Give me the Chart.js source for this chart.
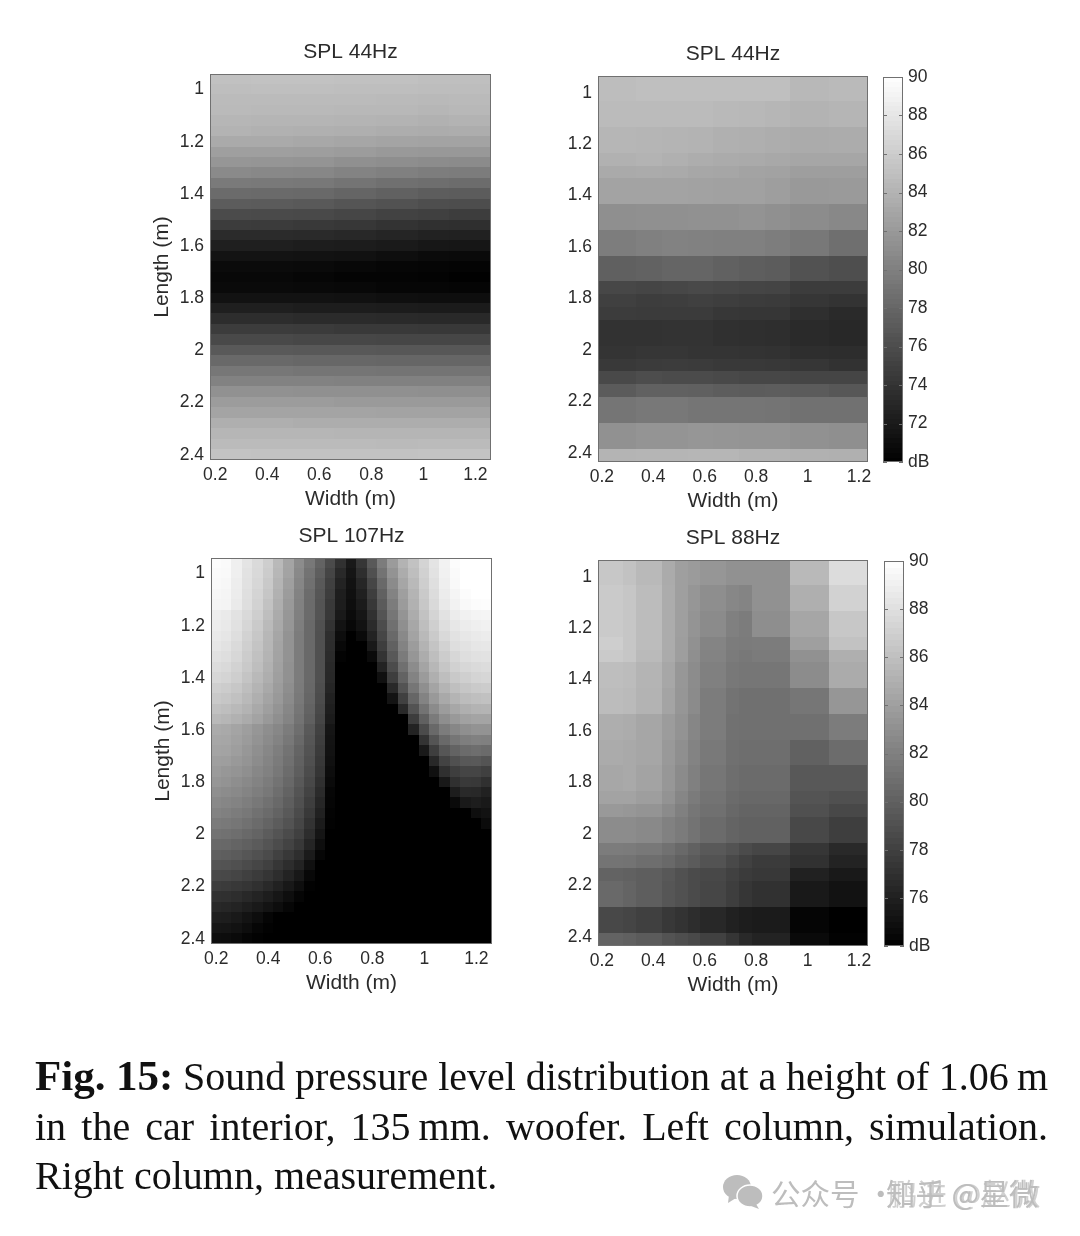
<!DOCTYPE html>
<html>
<head>
<meta charset="utf-8">
<title>Fig. 15</title>
<script src="https://cdn.jsdelivr.net/npm/chart.js@4"></script>
<style>
    html, body { margin: 0; padding: 0; background: #fff; }
    body { position: relative; width: 1080px; height: 1236px; overflow: hidden; }
    canvas { position: absolute; filter: blur(0.5px); }
    .linha { position: absolute; left: 35px; width: 1013px; font-family: "Liberation Serif", serif; font-size: 40px; line-height: 48px; color: #111; white-space: nowrap; filter: blur(0.35px); }
    .justa { text-align: justify; text-align-last: justify; white-space: normal; word-spacing: -3px; }
    .marca { position: absolute; top: 1172px; font-family: "Noto Sans CJK SC", sans-serif; font-size: 29.5px; line-height: 40px; color: #bdbdbd; white-space: nowrap; filter: blur(0.4px); }
</style>
</head>
<body>
<div class="linha justa" style="top:1052px"><b style="font-size:43px">Fig. 15:</b> Sound pressure level distribution at a height of 1.06&#8201;m</div>
<div class="linha justa" style="top:1103px">in the car interior, 135&#8201;mm. woofer. Left column, simulation.</div>
<div class="linha" style="top:1152px">Right column, measurement.</div>
<svg style="position:absolute;left:722px;top:1174px" width="42" height="36" viewBox="0 0 42 36">
    <ellipse cx="15" cy="13" rx="14" ry="12" fill="#bdbdbd"/><path d="M7 21 L6 29 L14 24 Z" fill="#bdbdbd"/>
    <ellipse cx="28" cy="22" rx="13" ry="11" fill="#bdbdbd" stroke="#fff" stroke-width="1.5"/><path d="M34 30 L37 35 L29 32 Z" fill="#bdbdbd"/>
</svg>
<div class="marca" style="left:771px">公众号 ·</div>
<div class="marca" style="left:886px">知乎 @星微</div>
<div class="marca" style="left:888px;opacity:.7">鹏进 @赵微</div>

<script>
// Eixos
const widthTicks = [0.2, 0.4, 0.6, 0.8, 1, 1.2];
const lengthTicks = [1, 1.2, 1.4, 1.6, 1.8, 2, 2.2, 2.4];
const titles = ['SPL 44Hz', 'SPL 44Hz', 'SPL 107Hz', 'SPL 88Hz'];

// Limites das células (m)
const simLengths = [0.94,0.98,1.02,1.06,1.1,1.14,1.18,1.22,1.26,1.3,1.34,1.38,1.42,1.46,1.5,1.54,1.58,1.62,1.66,1.7,1.74,1.78,1.82,1.86,1.9,1.94,1.98,2.02,2.06,2.1,2.14,2.18,2.22,2.26,2.3,2.34,2.38,2.42];
const sim44Widths = [0.18,0.34,0.5,0.66,0.82,0.98,1.1,1.26];
const sim107Widths = [0.18,0.22,0.26,0.3,0.34,0.38,0.42,0.46,0.5,0.54,0.58,0.62,0.66,0.7,0.74,0.78,0.82,0.86,0.9,0.94,0.98,1.02,1.06,1.1,1.14,1.18,1.22,1.26];
const measLengths = [0.935,0.985,1.035,1.085,1.135,1.185,1.235,1.285,1.335,1.385,1.435,1.485,1.535,1.585,1.635,1.685,1.735,1.785,1.835,1.885,1.935,1.985,2.035,2.085,2.135,2.185,2.235,2.285,2.335,2.385,2.435];
const meas44Widths = [0.185,0.335,0.435,0.535,0.635,0.735,0.835,0.935,1.085,1.235];
const meas88Widths = [0.185,0.285,0.335,0.435,0.485,0.535,0.585,0.685,0.735,0.785,0.935,1.085,1.235];

// Barras de cor (dB)
const scale70Levels = [70,70.25,70.5,70.75,71,71.25,71.5,71.75,72,72.25,72.5,72.75,73,73.25,73.5,73.75,74,74.25,74.5,74.75,75,75.25,75.5,75.75,76,76.25,76.5,76.75,77,77.25,77.5,77.75,78,78.25,78.5,78.75,79,79.25,79.5,79.75,80,80.25,80.5,80.75,81,81.25,81.5,81.75,82,82.25,82.5,82.75,83,83.25,83.5,83.75,84,84.25,84.5,84.75,85,85.25,85.5,85.75,86,86.25,86.5,86.75,87,87.25,87.5,87.75,88,88.25,88.5,88.75,89,89.25,89.5,89.75,90];
const scale74Levels = [74,74.25,74.5,74.75,75,75.25,75.5,75.75,76,76.25,76.5,76.75,77,77.25,77.5,77.75,78,78.25,78.5,78.75,79,79.25,79.5,79.75,80,80.25,80.5,80.75,81,81.25,81.5,81.75,82,82.25,82.5,82.75,83,83.25,83.5,83.75,84,84.25,84.5,84.75,85,85.25,85.5,85.75,86,86.25,86.5,86.75,87,87.25,87.5,87.75,88,88.25,88.5,88.75,89,89.25,89.5,89.75,90];
const scale70Ticks = [70,72,74,76,78,80,82,84,86,88,90];
const scale74Ticks = [74,76,78,80,82,84,86,88,90];

// SPL (dB): linha = comprimento, coluna = largura
const sim44 = [
[85.1,85.2,85.2,85.1,85.1,85,85],
[84.9,85,85,84.9,84.9,84.8,84.8],
[84.7,84.7,84.7,84.7,84.6,84.5,84.6],
[84.6,84.5,84.5,84.4,84.4,84.3,84.4],
[84.3,84.2,84.2,84.1,84,83.9,84],
[84,83.9,83.8,83.7,83.6,83.5,83.6],
[83.3,83.3,83.2,83,82.9,82.8,82.8],
[82.5,82.5,82.4,82.2,82,81.9,81.9],
[81.8,81.7,81.6,81.3,81.1,81,80.9],
[80.8,80.7,80.6,80.3,80,79.8,79.7],
[79.6,79.5,79.4,79.1,78.8,78.6,78.5],
[78.4,78.3,78.2,77.9,77.6,77.3,77.2],
[77.2,77.1,77,76.7,76.4,76.1,76],
[75.9,75.8,75.7,75.5,75.2,75,74.8],
[74.7,74.6,74.5,74.3,74,73.8,73.7],
[73.4,73.4,73.3,73.1,72.9,72.7,72.6],
[72.4,72.4,72.3,72.2,72,71.8,71.7],
[71.5,71.5,71.4,71.3,71.1,70.9,70.8],
[70.9,70.9,70.8,70.6,70.5,70.4,70.3],
[70.6,70.6,70.5,70.3,70.3,70.2,70.1],
[70.8,70.8,70.7,70.6,70.5,70.5,70.4],
[71.4,71.4,71.4,71.3,71.2,71.1,71.1],
[72.4,72.4,72.3,72.3,72.2,72.1,72.1],
[73.5,73.5,73.4,73.4,73.3,73.2,73.2],
[74.7,74.7,74.6,74.5,74.5,74.4,74.4],
[75.7,75.7,75.6,75.6,75.5,75.5,75.5],
[77,77,76.9,76.9,76.8,76.8,76.8],
[78.2,78.2,78.1,78.1,78,78,78],
[79.3,79.3,79.2,79.2,79.1,79.1,79.1],
[80.2,80.2,80.2,80.1,80.1,80.1,80.1],
[81.4,81.4,81.3,81.3,81.3,81.2,81.2],
[82.2,82.2,82.2,82.1,82.1,82.1,82.1],
[82.9,82.9,82.9,82.9,82.8,82.8,82.8],
[83.7,83.7,83.6,83.6,83.6,83.6,83.6],
[84.3,84.3,84.3,84.2,84.2,84.2,84.2],
[84.7,84.7,84.7,84.7,84.6,84.7,84.7],
[85.3,85.2,85.2,85.2,85.2,85.3,85.3]
];

const meas44 = [
[84.8,85,85,85,85,85,85,84.4,84.6],
[84.8,85,85,85,85,85,85,84.4,84.6],
[84.7,84.7,84.7,84.7,84.5,84.4,84.3,84,84.2],
[84.7,84.7,84.7,84.7,84.5,84.4,84.3,84,84.2],
[84.3,84.2,84.1,84,83.8,83.7,83.6,83.4,83.5],
[84.3,84.2,84.1,84,83.8,83.7,83.6,83.4,83.5],
[83.9,84,83.8,83.6,83.4,83.3,83.2,83,83],
[83.3,83.4,83.3,83.1,83,82.8,82.7,82.4,82.4],
[82.8,82.8,82.8,82.7,82.6,82.6,82.4,82,82.1],
[82.8,82.8,82.8,82.7,82.6,82.6,82.4,82,82.1],
[81.2,81.3,81.3,81.4,81.4,81.5,81.3,81,80.7],
[81.2,81.3,81.3,81.4,81.4,81.5,81.3,81,80.7],
[79.8,80,80.2,80.1,80,80,79.8,79.4,78.7],
[79.8,80,80.2,80.1,80,80,79.8,79.4,78.7],
[77.5,77.7,77.9,77.9,77.6,77.4,77.2,76.4,76.1],
[77.5,77.7,77.9,77.9,77.6,77.4,77.2,76.4,76.1],
[75.6,75.4,75.6,75.7,75.6,75.4,75.3,74.7,74.7],
[75,74.8,74.9,75,74.9,74.7,74.6,74.2,74],
[74.7,74.6,74.6,74.6,74.3,74.2,74.2,73.7,73.3],
[73.9,73.9,74,74,73.8,73.7,73.6,73.3,73.1],
[73.9,73.9,74,74,73.8,73.7,73.6,73.3,73.1],
[74.1,74.2,74.2,74.1,74.1,74,73.9,73.6,73.5],
[74.5,74.6,74.7,74.6,74.5,74.5,74.4,74.2,73.9],
[75.7,76,75.9,75.9,75.7,75.6,75.6,75.4,75.4],
[77.1,77.6,77.6,77.5,77.3,77.2,77.3,77.1,76.8],
[79.2,79.4,79.4,79.2,79.2,79.2,79.1,78.9,78.9],
[79.2,79.4,79.4,79.2,79.2,79.2,79.1,78.9,78.9],
[81.4,81.6,81.6,81.8,81.7,81.6,81.6,81.4,81.2],
[81.4,81.6,81.6,81.8,81.7,81.6,81.6,81.4,81.2],
[84.1,84.2,84.2,84.3,84.3,84,84,83.9,83.8]
];

const sim107 = [
[89.8,89.7,89,88.3,87.7,86.9,85.6,84.3,82.8,81.5,80.2,78.7,77.1,75.6,77.4,79.6,81.8,83.7,85.2,86.2,87.3,88.3,89.2,89.8,90,90,90],
[89.7,89.6,89,88.2,87.6,86.8,85.5,84.2,82.6,81.2,79.9,78.3,76.6,75.3,76.9,79,81.2,83.2,84.8,85.9,87.1,88.2,89.1,89.7,90,90,90],
[89.6,89.5,88.9,88.1,87.5,86.6,85.3,84,82.4,81,79.6,78,76.2,75.1,76.4,78.4,80.6,82.7,84.4,85.6,86.9,88,89,89.6,90,90,90],
[89.5,89.4,88.8,88,87.3,86.4,85.1,83.8,82.2,80.8,79.4,77.8,75.9,75,76,77.9,80.1,82.2,84,85.3,86.7,87.8,88.8,89.4,89.8,90,90],
[89.4,89.3,88.7,87.9,87.2,86.2,84.9,83.6,82.1,80.7,79.3,77.6,75.8,74.9,75.7,77.5,79.7,81.8,83.7,85.1,86.5,87.6,88.6,89.2,89.6,89.8,89.9],
[88.9,88.7,88.2,87.6,86.9,85.9,84.7,83.5,82,80.7,79.3,77.5,75.6,74.7,75.4,77.1,79.3,81.4,83.3,84.8,86.2,87.3,88.2,88.8,89.1,89.3,89.4],
[88.8,88.6,88.1,87.4,86.7,85.7,84.6,83.4,81.9,80.6,79.1,77.2,75.2,74.5,75.1,76.7,78.8,81,83,84.5,85.9,87,87.9,88.5,88.8,89,89.1],
[88.6,88.4,87.9,87.2,86.5,85.5,84.4,83.2,81.8,80.6,79,76.9,74.8,74,74.6,76.2,78.4,80.6,82.6,84.2,85.6,86.7,87.6,88.2,88.5,88.7,88.8],
[88.4,88.2,87.7,87,86.3,85.4,84.3,83.2,81.8,80.6,79,76.8,74.5,74,74,75.6,77.9,80.1,82.2,83.8,85.2,86.3,87.2,87.9,88.2,88.4,88.5],
[88.1,87.9,87.5,86.8,86.1,85.3,84.2,83.2,81.8,80.6,79,76.7,74.2,74,74,74.6,77.2,79.5,81.7,83.4,84.8,85.9,86.8,87.5,87.9,88.1,88.2],
[87.8,87.6,87.2,86.6,85.9,85.1,84.1,83.1,81.8,80.6,79,76.6,74,74,74,74,76.2,78.8,81,82.8,84.3,85.5,86.4,87.1,87.5,87.7,87.8],
[87.5,87.3,86.9,86.3,85.6,84.9,84,83.1,81.8,80.6,79,76.5,74,74,74,74,75,77.9,80.2,82.2,83.7,85,85.9,86.6,87,87.3,87.4],
[87,86.8,86.5,85.9,85.3,84.6,83.8,82.9,81.7,80.5,78.9,76.3,74,74,74,74,74,76.6,79.2,81.4,83,84.3,85.3,86,86.4,86.7,86.8],
[86.6,86.4,86.1,85.6,85,84.3,83.6,82.7,81.6,80.4,78.8,76.1,74,74,74,74,74,75.2,78,80.4,82.2,83.6,84.6,85.3,85.8,86,86.1],
[86.1,85.9,85.6,85.2,84.6,84,83.3,82.5,81.4,80.2,78.6,75.9,74,74,74,74,74,74,76.6,79.2,81.2,82.7,83.8,84.5,85,85.2,85.3],
[85.6,85.4,85.1,84.7,84.2,83.6,83,82.3,81.2,80,78.4,75.7,74,74,74,74,74,74,74,77.8,80,81.7,82.9,83.6,84.1,84.3,84.3],
[84.7,84.6,84.3,83.9,83.4,82.9,82.5,81.8,80.9,79.6,78.1,75.3,74,74,74,74,74,74,74,76.2,78.7,80.6,81.8,82.5,83,83.2,83.2],
[84.5,84.4,84.1,83.7,83.2,82.7,82.2,81.5,80.6,79.4,77.9,75.2,74,74,74,74,74,74,74,74,77.2,79.3,80.6,81.4,81.9,82.1,82],
[84.3,84.2,83.9,83.5,83,82.5,81.9,81.2,80.3,79.2,77.7,75.1,74,74,74,74,74,74,74,74,75.6,77.9,79.4,80.2,80.7,80.9,80.7],
[84,83.9,83.6,83.3,82.8,82.3,81.7,81,80.1,79,77.5,75,74,74,74,74,74,74,74,74,74,76.5,78.2,79,79.5,79.6,79.3],
[83.7,83.5,83.3,83,82.5,82.1,81.5,80.8,79.9,78.8,77.3,74.8,74,74,74,74,74,74,74,74,74,75,77,77.9,78.3,78.3,78],
[83.4,83.2,82.9,82.6,82.2,81.8,81.2,80.5,79.6,78.5,77,74.6,74,74,74,74,74,74,74,74,74,74,75.6,77,77.6,77.5,77],
[83,82.8,82.6,82.3,81.9,81.5,80.9,80.2,79.3,78.2,76.7,74.4,74,74,74,74,74,74,74,74,74,74,74,75.8,76.6,76.5,76.1],
[82.6,82.4,82.2,81.9,81.5,81.1,80.6,79.9,79,77.9,76.4,74.3,74,74,74,74,74,74,74,74,74,74,74,74.6,75.6,75.8,75.6],
[82.2,82,81.8,81.5,81.1,80.7,80.2,79.6,78.7,77.6,76.1,74.2,74,74,74,74,74,74,74,74,74,74,74,74,74,74.9,75.1],
[81.7,81.6,81.4,81.1,80.7,80.3,79.8,79.2,78.4,77.2,75.7,74.1,74,74,74,74,74,74,74,74,74,74,74,74,74,74,74.7],
[81.2,81.1,80.9,80.6,80.3,79.8,79.3,78.7,78,76.8,75.3,74,74,74,74,74,74,74,74,74,74,74,74,74,74,74,74],
[80.6,80.5,80.3,80,79.7,79.3,78.8,78.2,77.5,76.3,74.9,74,74,74,74,74,74,74,74,74,74,74,74,74,74,74,74],
[80,79.9,79.7,79.4,79.1,78.7,78.1,77.5,76.9,75.7,74.4,74,74,74,74,74,74,74,74,74,74,74,74,74,74,74,74],
[79.3,79.2,79,78.7,78.4,78,77.4,76.8,76.2,75,74,74,74,74,74,74,74,74,74,74,74,74,74,74,74,74,74],
[78.6,78.5,78.3,78,77.7,77.3,76.8,76.2,75.5,74.5,74,74,74,74,74,74,74,74,74,74,74,74,74,74,74,74,74],
[77.8,77.7,77.5,77.3,77,76.6,76.1,75.5,74.9,74.1,74,74,74,74,74,74,74,74,74,74,74,74,74,74,74,74,74],
[77.1,77,76.8,76.5,76.2,75.8,75.4,74.9,74.3,74,74,74,74,74,74,74,74,74,74,74,74,74,74,74,74,74,74],
[76.5,76.4,76.2,75.9,75.6,75.2,74.8,74.4,74,74,74,74,74,74,74,74,74,74,74,74,74,74,74,74,74,74,74],
[75.9,75.8,75.6,75.2,74.8,74.3,74,74,74,74,74,74,74,74,74,74,74,74,74,74,74,74,74,74,74,74,74],
[75.4,75.3,75.1,74.8,74.4,74.1,74,74,74,74,74,74,74,74,74,74,74,74,74,74,74,74,74,74,74,74,74],
[74.9,74.8,74.6,74.3,74.1,74,74,74,74,74,74,74,74,74,74,74,74,74,74,74,74,74,74,74,74,74,74]
];

const meas88 = [
[86.5,86.2,85.6,84.7,84,83.7,83.4,83.1,83.1,83.1,85.6,87.8],
[86.5,86.2,85.6,84.7,84,83.7,83.4,83.1,83.1,83.1,85.6,87.8],
[86.7,86.4,85.8,84.8,84,83.4,82.9,82.5,82.3,83.1,85,87.2],
[86.7,86.4,85.8,84.8,84,83.4,82.9,82.5,82.3,83.1,85,87.2],
[86.7,86.4,85.8,84.8,84,83.3,82.7,82,81.8,82.9,84.4,86.5],
[86.7,86.4,85.8,84.8,84,83.3,82.7,82,81.8,82.9,84.4,86.5],
[86.9,86.4,85.8,84.8,83.9,83.1,82.3,81.8,81.7,81.8,84,86.2],
[86.7,86.4,85.7,84.7,83.9,83,82.2,81.7,81.5,81.7,83.1,85],
[85.9,85.8,85.3,84.5,83.5,82.8,82,81.5,81.4,81.4,82.8,84.7],
[85.9,85.8,85.3,84.5,83.5,82.8,82,81.5,81.4,81.4,82.8,84.7],
[85.8,85.7,85.2,84.3,83.4,82.7,81.8,81.2,81,81,81.4,83.4],
[85.8,85.7,85.2,84.3,83.4,82.7,81.8,81.2,81,81,81.4,83.4],
[84.9,84.8,84.4,83.8,83.2,82.4,81.8,81.1,81,81,81,81.8],
[84.9,84.8,84.4,83.8,83.2,82.4,81.8,81.1,81,81,81,81.8],
[84.7,84.6,84.4,83.6,83,82.2,81.6,81,80.9,80.9,80.1,80.8],
[84.7,84.6,84.4,83.6,83,82.2,81.6,81,80.9,80.9,80.1,80.8],
[84.5,84.6,84.2,83.5,82.7,82,81.4,80.9,80.7,80.7,79.5,79.5],
[84.5,84.6,84.2,83.5,82.7,82,81.4,80.9,80.7,80.7,79.5,79.5],
[84.2,84.2,83.9,83.2,82.4,81.7,81.2,80.7,80.5,80.5,79.3,79],
[83.6,83.5,83.3,82.7,82,81.4,81,80.5,80.3,80.3,79,78.5],
[82.8,82.8,82.6,82.1,81.7,81.2,80.7,80.3,80.1,80.1,78.5,77.9],
[82.8,82.8,82.6,82.1,81.7,81.2,80.7,80.3,80.1,80.1,78.5,77.9],
[81.8,81.7,81.5,81.1,80.6,80.1,79.6,79.2,78.7,78.4,77.4,76.6],
[81.3,81.2,80.9,80.6,80.1,79.7,79.2,78.6,78.1,77.7,77.1,76.2],
[80.2,80.1,79.9,79.5,79.1,78.7,78.5,78.1,77.7,77.5,76.1,75.6],
[80.6,80.3,79.9,79.4,79.1,78.7,78.4,77.9,77.4,77.1,75.6,75.1],
[80.6,80.3,79.9,79.4,79.1,78.7,78.4,77.9,77.4,77.1,75.6,75.1],
[78.5,78.3,78,77.5,77.2,76.8,76.5,76.1,75.8,75.7,74.3,74],
[78.5,78.3,78,77.5,77.2,76.8,76.5,76.1,75.8,75.7,74.3,74],
[80.2,80,79.7,79.2,78.9,78.6,78.1,77.3,76.6,76.2,74.6,74.1]
];

// Transforma as grades em células para o Chart.js
function montarCelulas(larguras, comprimentos, grade) {
    const celulas = [];
    grade.forEach((linha, l) => {
        linha.forEach((v, c) => {
            celulas.push({
                x: (larguras[c] + larguras[c + 1]) / 2,
                y: (comprimentos[l] + comprimentos[l + 1]) / 2,
                x0: larguras[c], x1: larguras[c + 1],
                y0: comprimentos[l], y1: comprimentos[l + 1],
                v: v
            });
        });
    });
    return celulas;
}

function montarBarra(niveis) {
    const celulas = [];
    for (let i = 0; i < niveis.length - 1; i++) {
        celulas.push({
            x: 0.5, y: (niveis[i] + niveis[i + 1]) / 2,
            x0: 0, x1: 1, y0: niveis[i], y1: niveis[i + 1],
            v: (niveis[i] + niveis[i + 1]) / 2
        });
    }
    return celulas;
}

// Plugin: pinta as células usando as escalas do gráfico
const heatmapPlugin = {
    id: 'heatmap',
    beforeDatasetsDraw(chart, args, opts) {
        const { ctx, scales: { x, y } } = chart;
        ctx.save();
        chart.data.datasets[0].data.forEach(c => {
            const g = Math.round(255 * Math.min(1, Math.max(0, (c.v - opts.lo) / (opts.hi - opts.lo))));
            const xa = Math.floor(x.getPixelForValue(c.x0));
            const xb = Math.ceil(x.getPixelForValue(c.x1));
            const ya = Math.floor(Math.min(y.getPixelForValue(c.y0), y.getPixelForValue(c.y1)));
            const yb = Math.ceil(Math.max(y.getPixelForValue(c.y0), y.getPixelForValue(c.y1)));
            ctx.fillStyle = `rgb(${g},${g},${g})`;
            ctx.fillRect(xa, ya, xb - xa, yb - ya);
        });
        ctx.restore();
    },
    afterDraw(chart, args, opts) {
        const { ctx, chartArea: a, scales: { y } } = chart;
        ctx.save();
        ctx.strokeStyle = '#707070';
        ctx.lineWidth = 1;
        ctx.strokeRect(Math.round(a.left) + 0.5, Math.round(a.top) + 0.5, Math.round(a.width) - 1, Math.round(a.height) - 1);
        // marcas internas só na barra de cor
        if (opts.marcas) {
            y.ticks.forEach(t => {
                const py = Math.round(y.getPixelForValue(t.value)) + 0.5;
                ctx.beginPath();
                ctx.moveTo(a.left, py); ctx.lineTo(a.left + 4, py);
                ctx.moveTo(a.right, py); ctx.lineTo(a.right - 4, py);
                ctx.stroke();
            });
        }
        ctx.restore();
    }
};

const corTexto = '#2b2b2b';
const fonte = 'Liberation Sans';

function novoCanvas(left, top, w, h) {
    const canvas = document.createElement('canvas');
    canvas.width = w;
    canvas.height = h;
    canvas.style.cssText = `left:${left}px;top:${top}px;width:${w}px;height:${h}px`;
    document.body.appendChild(canvas);
    return canvas;
}

function criarMapa(p) {
    const w = 70 + p.w + 20;
    const h = 33 + p.h + 50;
    const canvas = novoCanvas(p.left - 70, p.top - 33, w, h);
    return new Chart(canvas, {
        type: 'scatter',
        data: { datasets: [{ data: p.celulas, pointRadius: 0 }] },
        plugins: [heatmapPlugin],
        options: {
            responsive: false,
            animation: false,
            devicePixelRatio: 1,
            layout: { padding: { right: 20 } },
            plugins: {
                legend: { display: false },
                tooltip: { enabled: false },
                title: {
                    display: true, text: p.titulo, fullSize: false, color: corTexto,
                    font: { family: fonte, size: 21, weight: 'normal', lineHeight: 1 },
                    padding: { top: 0.5, bottom: 11.5 }
                },
                heatmap: { lo: p.lo, hi: p.hi, marcas: false }
            },
            scales: {
                x: {
                    type: 'linear', min: p.xMin, max: p.xMax,
                    grid: { display: false, drawTicks: false }, border: { display: false },
                    afterBuildTicks: axis => { axis.ticks = widthTicks.map(value => ({ value })); },
                    afterFit: axis => { axis.height = 50; },
                    ticks: {
                        color: corTexto, padding: 5, maxRotation: 0, autoSkip: false,
                        font: { family: fonte, size: 17.5 },
                        callback: v => String(v)
                    },
                    title: {
                        display: true, text: 'Width (m)', color: corTexto,
                        font: { family: fonte, size: 21, lineHeight: 1 }, padding: { top: 4, bottom: 0 }
                    }
                },
                y: {
                    type: 'linear', reverse: true, min: p.yMin, max: p.yMax,
                    grid: { display: false, drawTicks: false }, border: { display: false },
                    afterBuildTicks: axis => { axis.ticks = lengthTicks.map(value => ({ value })); },
                    afterFit: axis => { axis.width = 70; },
                    ticks: {
                        color: corTexto, padding: 6, autoSkip: false,
                        font: { family: fonte, size: 17.5 },
                        callback: v => String(v)
                    },
                    title: {
                        display: p.comTituloY, text: 'Length (m)', color: corTexto,
                        font: { family: fonte, size: 21, lineHeight: 1 }, padding: { top: 11.5, bottom: 0 }
                    }
                }
            }
        }
    });
}

function criarBarra(p) {
    const canvas = novoCanvas(p.left, p.top - 16, p.w + 40, p.h + 32);
    return new Chart(canvas, {
        type: 'scatter',
        data: { datasets: [{ data: montarBarra(p.niveis), pointRadius: 0 }] },
        plugins: [heatmapPlugin],
        options: {
            responsive: false,
            animation: false,
            devicePixelRatio: 1,
            layout: { padding: { top: 16, bottom: 16 } },
            plugins: {
                legend: { display: false },
                tooltip: { enabled: false },
                heatmap: { lo: p.niveis[0], hi: p.niveis[p.niveis.length - 1], marcas: true }
            },
            scales: {
                x: { type: 'linear', min: 0, max: 1, display: false },
                y: {
                    type: 'linear', position: 'right',
                    min: p.niveis[0], max: p.niveis[p.niveis.length - 1],
                    grid: { display: false, drawTicks: false }, border: { display: false },
                    afterBuildTicks: axis => { axis.ticks = p.marcas.map(value => ({ value })); },
                    afterFit: axis => { axis.width = 40; },
                    ticks: {
                        color: corTexto, padding: 5, autoSkip: false,
                        font: { family: fonte, size: 17.5 },
                        callback: v => (v === p.niveis[0] ? 'dB' : String(v))
                    }
                }
            }
        }
    });
}

// Inicialização
criarMapa({ left: 210, top: 74, w: 281, h: 386, titulo: titles[0], xMin: 0.18, xMax: 1.26, yMin: 0.94, yMax: 2.42, lo: 70, hi: 90, comTituloY: true,
    celulas: montarCelulas(sim44Widths, simLengths, sim44) });
criarMapa({ left: 598, top: 76, w: 270, h: 386, titulo: titles[1], xMin: 0.185, xMax: 1.235, yMin: 0.935, yMax: 2.435, lo: 70, hi: 90, comTituloY: false,
    celulas: montarCelulas(meas44Widths, measLengths, meas44) });
criarMapa({ left: 211, top: 558, w: 281, h: 386, titulo: titles[2], xMin: 0.18, xMax: 1.26, yMin: 0.94, yMax: 2.42, lo: 74, hi: 90, comTituloY: true,
    celulas: montarCelulas(sim107Widths, simLengths, sim107) });
criarMapa({ left: 598, top: 560, w: 270, h: 386, titulo: titles[3], xMin: 0.185, xMax: 1.235, yMin: 0.935, yMax: 2.435, lo: 74, hi: 90, comTituloY: false,
    celulas: montarCelulas(meas88Widths, measLengths, meas88) });
criarBarra({ left: 883, top: 77, w: 20, h: 385, niveis: scale70Levels, marcas: scale70Ticks });
criarBarra({ left: 884, top: 561, w: 20, h: 385, niveis: scale74Levels, marcas: scale74Ticks });
</script>
</body>
</html>
